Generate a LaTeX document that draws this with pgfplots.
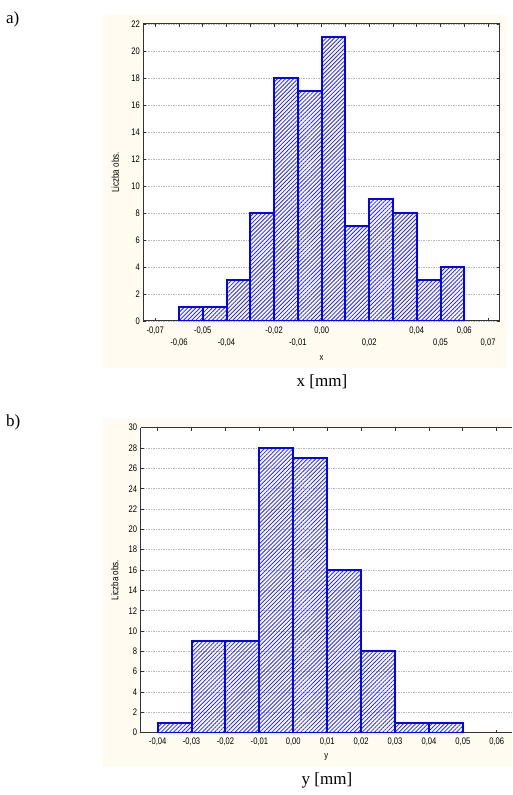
\documentclass[border=0pt]{standalone}
\usepackage{fontspec}
\setmainfont{Liberation Serif}
\newfontfamily\arial{Liberation Sans}
\newfontfamily\arialn[FakeStretch=0.8]{Liberation Sans}
\usepackage{pgfplots}
\pgfplotsset{compat=1.18}
\usetikzlibrary{patterns.meta}

\definecolor{cream}{RGB}{255,251,240}
\definecolor{hatch}{RGB}{40,40,255}

\pgfplotsset{
  hist/.style={
    scale only axis, anchor=south west,
    axis background/.style={fill=white},
    axis line style={line width=1pt, black!80},
    tick style={black!80, line width=0.8pt},
    major tick length=3pt,
    tick align=inside,
    scaled x ticks=false,
    ymin=0, ytick distance=2,
    ymajorgrids,
    grid style={dash pattern=on 1.5pt off 1pt, black!28, line width=0.5pt},
    tick label style={font=\arialn\fontsize{9.5}{11}\selectfont,
      /pgf/number format/assume math mode=true},
    every axis y label/.style={rotate=90, anchor=center,
      font=\arialn\fontsize{10}{11}\selectfont},
    every axis x label/.style={at={(axis description cs:0.5,0)},
      anchor=center, font=\arialn\fontsize{9.5}{11}\selectfont},
  },
  histbar/.style={ybar interval, draw=blue, line width=2pt},
}

\pgfplotstableread{
x     n
-0.06 1
-0.05 1
-0.04 3
-0.03 8
-0.02 18
-0.01 17
0.00  21
0.01  7
0.02  9
0.03  8
0.04  3
0.05  4
0.06  4
}\histx

\pgfplotstableread{
x     n
-0.04 1
-0.03 9
-0.02 9
-0.01 28
0.00  27
0.01  16
0.02  8
0.03  1
0.04  1
0.05  1
}\histy

\begin{document}
\begin{tikzpicture}[x=1pt, y=1pt]
\fill[cream] (103,427) rectangle (507,780);
\fill[cream] (103,28) rectangle (512,376);

% a)
\begin{axis}[hist,
  at={(143.3pt,474pt)},
  width=356.7pt, height=297pt,
  xmin=-0.075, xmax=0.075, ymax=22,
  xtick={-0.07,-0.06,...,0.07},
  xticklabels={{-0,07},{\strut\\-0,06},{-0,05},{\strut\\-0,04},{},{-0,02},{\strut\\-0,01},{0,00},{},{\strut\\0,02},{},{0,04},{\strut\\0,05},{0,06},{\strut\\0,07}},
  xticklabel style={align=center, yshift=-2pt},
  ylabel={Liczba obs.}, ylabel style={at={(axis description cs:-0.0785,0.5)}},
  xlabel={x}, xlabel style={yshift=-37pt},
]
\addplot[ybar interval, fill=white, draw=none] table[x=x, y=n] {\histx};
\addplot[histbar, pattern color=hatch,
  pattern={Lines[angle=45, distance=2.9pt, line width=0.85pt]}] table[x=x, y=n] {\histx};
\end{axis}

% b)
\begin{axis}[hist,
  at={(140.7pt,62.3pt)},
  width=371.3pt, height=305pt,
  axis x line*=box, axis y line*=left,
  xmin=-0.045, xmax=0.0645, ymax=30,
  xtick={-0.04,-0.03,...,0.06},
  xticklabels={{-0,04},{-0,03},{-0,02},{-0,01},{0,00},{0,01},{0,02},{0,03},{0,04},{0,05},{0,06}},
  xticklabel style={yshift=-2pt},
  ylabel={Liczba obs.}, ylabel style={at={(axis description cs:-0.07,0.5)}},
  xlabel={y}, xlabel style={yshift=-24pt},
]
\addplot[histbar, pattern color=hatch,
  pattern={Lines[angle=45, distance=2.9pt, line width=0.8pt]}] table[x=x, y=n] {\histy};
\end{axis}

\node[font=\fontsize{17}{20}\selectfont, anchor=west, inner sep=0pt] at (6,776) {a)};
\node[font=\fontsize{17}{20}\selectfont, anchor=west, inner sep=0pt] at (6,373) {b)};
\node[font=\fontsize{17}{20}\selectfont] at (322,413) {x [mm]};
\node[font=\fontsize{17}{20}\selectfont] at (327,15) {y [mm]};

\pgfresetboundingbox
\path[use as bounding box] (0,0) rectangle (512,795);
\end{tikzpicture}
\end{document}
